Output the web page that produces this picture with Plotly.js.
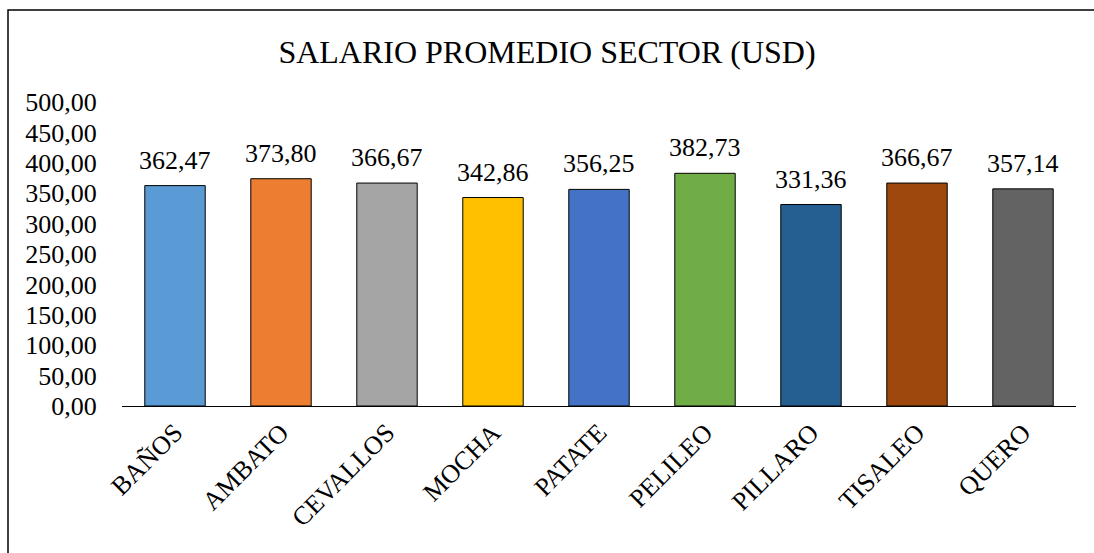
<!DOCTYPE html>
<html>
<head>
<meta charset="utf-8">
<script src="https://cdn.plot.ly/plotly-3.0.1.min.js"></script>
<style>
  html, body { margin: 0; padding: 0; background: #fff; }
  #chart { width: 1094px; height: 553px; }
</style>
</head>
<body>
<div id="chart"></div>
<script>
const categories = ["BAÑOS", "AMBATO", "CEVALLOS", "MOCHA", "PATATE", "PELILEO", "PILLARO", "TISALEO", "QUERO"];
const salaries = [362.47, 373.80, 366.67, 342.86, 356.25, 382.73, 331.36, 366.67, 357.14];
const barColors = ["#5B9BD5", "#ED7D31", "#A5A5A5", "#FFC000", "#4472C4", "#70AD47", "#255E91", "#9E480E", "#636363"];
const yTicks = [0, 50, 100, 150, 200, 250, 300, 350, 400, 450, 500];

const FONT = "'Liberation Serif', 'Times New Roman', Tinos";

function fmt(v) {
  return v.toFixed(2).replace(".", ",");
}

const trace = {
  type: "bar",
  x: categories,
  y: salaries,
  marker: { color: barColors, line: { color: "#000000", width: 1 } },
  hoverinfo: "skip"
};

const annotations = categories.map((c, i) => ({
  x: c,
  y: salaries[i],
  xref: "x",
  yref: "y",
  text: fmt(salaries[i]),
  showarrow: false,
  yanchor: "bottom",
  yshift: 9,
  font: { family: FONT, size: 26, color: "#000" }
}));

const layout = {
  width: 1094,
  height: 553,
  margin: { l: 122, r: 18, t: 102, b: 147 },
  paper_bgcolor: "#ffffff",
  plot_bgcolor: "#ffffff",
  separators: ",.",
  showlegend: false,
  bargap: 0.43,
  font: { family: FONT, color: "#000" },
  title: {
    text: "SALARIO PROMEDIO SECTOR (USD)",
    font: { family: FONT, size: 32, color: "#000" },
    x: 0.5,
    xanchor: "center",
    y: 1 - 52 / 553,
    yanchor: "middle"
  },
  xaxis: {
    type: "category",
    showline: true,
    linecolor: "#000000",
    linewidth: 1,
    ticks: "",
    tickangle: -45,
    tickfont: { family: FONT, size: 26, color: "#000" },
    showgrid: false,
    zeroline: false,
    fixedrange: true
  },
  yaxis: {
    range: [0, 500],
    tickvals: yTicks,
    tickformat: ".2f",
    showline: false,
    ticks: "outside",
    ticklen: 19,
    tickcolor: "rgba(0,0,0,0)",
    showgrid: false,
    zeroline: false,
    tickfont: { family: FONT, size: 26, color: "#000" },
    fixedrange: true
  },
  annotations: annotations,
  shapes: [{
    type: "rect",
    xref: "paper",
    yref: "paper",
    x0: (8 - 122) / 954,
    x1: (1110 - 122) / 954,
    y0: (406 - 570) / 304,
    y1: (406 - 10) / 304,
    line: { color: "#000000", width: 1.5 },
    fillcolor: "rgba(0,0,0,0)",
    layer: "above"
  }]
};

Plotly.newPlot("chart", [trace], layout, { staticPlot: true, displayModeBar: false });
</script>
</body>
</html>
